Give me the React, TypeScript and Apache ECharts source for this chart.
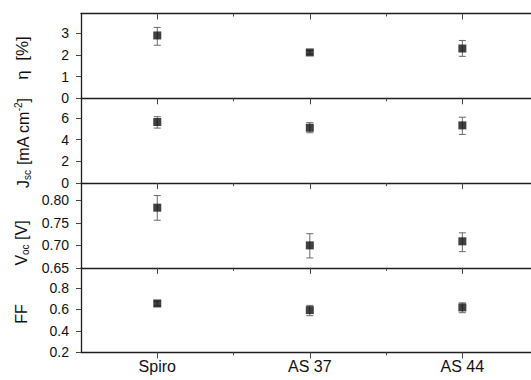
import React, { useEffect, useRef } from 'react';
import * as echarts from 'echarts';

const categories = ['Spiro', 'AS 37', 'AS 44'];
const catX = [1, 2, 3];
const minorX = [1.5, 2.5];

const etaMean = [2.89, 2.11, 2.29];
const etaLow = [2.44, 2.02, 1.93];
const etaHigh = [3.26, 2.2, 2.66];

const jscMean = [5.62, 5.09, 5.31];
const jscLow = [5.06, 4.63, 4.48];
const jscHigh = [6.11, 5.56, 6.06];

const vocMean = [0.784, 0.7, 0.709];
const vocLow = [0.756, 0.672, 0.686];
const vocHigh = [0.811, 0.726, 0.728];

const ffMean = [0.655, 0.593, 0.618];
const ffLow = [0.633, 0.541, 0.569];
const ffHigh = [0.677, 0.637, 0.661];

const etaTicks = [0, 1, 2, 3];
const jscTicks = [0, 2, 4, 6];
const vocTicks = [0.65, 0.7, 0.75, 0.8];
const ffTicks = [0.2, 0.4, 0.6, 0.8];

const FONT = '"Liberation Sans", Arial, sans-serif';

export default function App() {
  const ref = useRef<HTMLDivElement>(null);
  useEffect(() => {
    if (!ref.current) return;
    const chart = echarts.init(ref.current, null, { renderer: 'svg' });

    const panels = [
      { mean: etaMean, low: etaLow, high: etaHigh, ticks: etaTicks, min: 0, max: 3.9, dec: 0 },
      { mean: jscMean, low: jscLow, high: jscHigh, ticks: jscTicks, min: 0, max: 7.8, dec: 0 },
      { mean: vocMean, low: vocLow, high: vocHigh, ticks: vocTicks, min: 0.65, max: 0.839, dec: 2 },
      { mean: ffMean, low: ffLow, high: ffHigh, ticks: ffTicks, min: 0.2, max: 0.99, dec: 1 },
    ];
    const tops = [13.5, 98.3, 183, 267.5];
    const h = 84.8;
    const axisColor = '#1e1e1e';

    const grids = tops.map((t) => ({ left: 81, right: 0, top: t, height: h }));
    const xAxes: any[] = [];
    const yAxes: any[] = [];
    const series: any[] = [];

    panels.forEach((p, i) => {
      const mainIdx = xAxes.length;
      xAxes.push({
        gridIndex: i, type: 'value', min: 0.5, max: 3.45, position: 'bottom',
        axisLine: { show: true, lineStyle: { color: axisColor, width: 1.3 } },
        axisTick: { show: true, customValues: catX, length: 6, lineStyle: { color: '#444', width: 1 } },
        axisLabel: {
          show: i === 3, customValues: catX, margin: 6,
          formatter: (v: number) => categories[Math.round(v) - 1] ?? '',
          color: '#111', fontSize: 16, fontFamily: FONT,
        },
        splitLine: { show: false },
      });
      xAxes.push({
        gridIndex: i, type: 'value', min: 0.5, max: 3.45, position: 'bottom',
        axisLine: { show: false },
        axisTick: { show: true, customValues: minorX, length: 3, lineStyle: { color: '#444', width: 1 } },
        axisLabel: { show: false },
        splitLine: { show: false },
      });
      if (i === 0) {
        xAxes.push({
          gridIndex: i, type: 'value', min: 0.5, max: 3.45, position: 'top',
          axisLine: { show: true, lineStyle: { color: axisColor, width: 1.3 } },
          axisTick: { show: true, inside: true, customValues: catX, length: 6, lineStyle: { color: '#444', width: 1 } },
          axisLabel: { show: false },
          splitLine: { show: false },
        });
        xAxes.push({
          gridIndex: i, type: 'value', min: 0.5, max: 3.45, position: 'top',
          axisLine: { show: false },
          axisTick: { show: true, inside: true, customValues: minorX, length: 3, lineStyle: { color: '#444', width: 1 } },
          axisLabel: { show: false },
          splitLine: { show: false },
        });
      }
      yAxes.push({
        gridIndex: i, type: 'value', min: p.min, max: p.max, position: 'left',
        axisLine: { show: true, lineStyle: { color: axisColor, width: 1.3 } },
        axisTick: { show: true, customValues: p.ticks, length: 5, lineStyle: { color: '#444', width: 1 } },
        axisLabel: {
          customValues: p.ticks, margin: 12,
          formatter: (v: number) => v.toFixed(p.dec),
          color: '#111', fontSize: 14, fontFamily: FONT,
        },
        splitLine: { show: false },
      });
      const errData = catX.map((x, k) => [x, p.low[k], p.high[k]]);
      series.push({
        type: 'custom', xAxisIndex: mainIdx, yAxisIndex: i, z: 2,
        encode: { x: 0, y: [1, 2] },
        data: errData,
        renderItem: (params: any, api: any) => {
          const x = api.value(0);
          const top = api.coord([x, api.value(2)]);
          const bot = api.coord([x, api.value(1)]);
          const w = 3.5;
          const st = { stroke: '#6a6a6a', lineWidth: 1 };
          return {
            type: 'group',
            children: [
              { type: 'line', shape: { x1: top[0], y1: top[1], x2: bot[0], y2: bot[1] }, style: st },
              { type: 'line', shape: { x1: top[0] - w, y1: top[1], x2: top[0] + w, y2: top[1] }, style: st },
              { type: 'line', shape: { x1: bot[0] - w, y1: bot[1], x2: bot[0] + w, y2: bot[1] }, style: st },
            ],
          };
        },
      });
      series.push({
        type: 'scatter', xAxisIndex: mainIdx, yAxisIndex: i, z: 3,
        symbol: 'rect', symbolSize: 8,
        itemStyle: { color: '#111' },
        data: catX.map((x, k) => [x, p.mean[k]]),
      });
    });

    const nameStyle = (text: string, size = 16) => ({
      text,
      font: `${size}px ${FONT}`,
      fill: '#111',
      align: 'center',
      verticalAlign: 'middle',
      rich: {
        n: { fontSize: size, fontFamily: FONT, fill: '#111' },
        sub: { fontSize: 10, fontFamily: FONT, fill: '#111', padding: [9, 0, 0, 0] },
        sup: { fontSize: 10, fontFamily: FONT, fill: '#111', padding: [0, 0, 9, 0] },
      },
    });

    chart.setOption({
      animation: false,
      backgroundColor: '#fff',
      grid: grids,
      xAxis: xAxes,
      yAxis: yAxes,
      series,
      graphic: [
        { type: 'text', x: 22, y: 58, rotation: Math.PI / 2, style: nameStyle('{n|η  [%]}', 17) },
        { type: 'text', x: 23, y: 143, rotation: Math.PI / 2, style: nameStyle('{n|J}{sub|sc}{n| [mA cm}{sup|-2}{n|]}') },
        { type: 'text', x: 21, y: 243, rotation: Math.PI / 2, style: nameStyle('{n|V}{sub|oc}{n| [V]}') },
        { type: 'text', x: 21, y: 314, rotation: Math.PI / 2, style: nameStyle('{n|FF}') },
      ],
    });
    return () => chart.dispose();
  }, []);
  return (
    <div
      ref={ref}
      style={{ position: 'fixed', left: 0, top: 0, width: 531, height: 380, background: '#fff' }}
    />
  );
}
